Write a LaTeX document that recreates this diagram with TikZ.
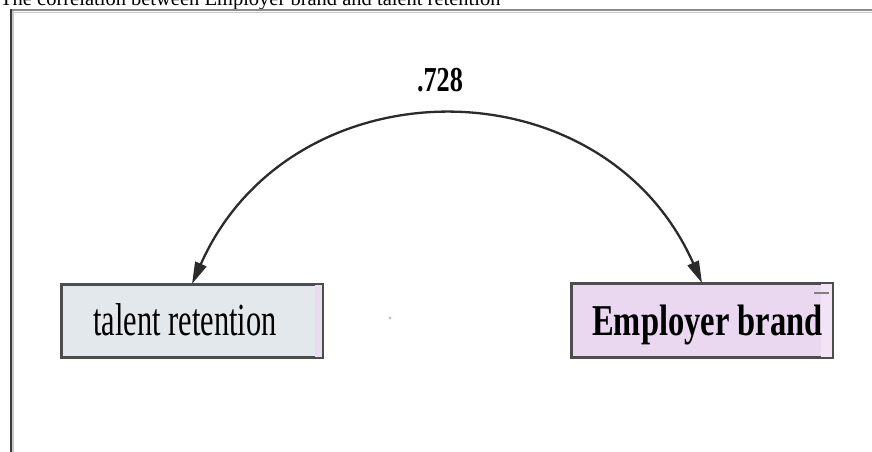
\documentclass[tikz,border=0pt]{standalone}
\usepackage{fontspec}
\setmainfont{Liberation Serif}
\usetikzlibrary{arrows.meta}

\definecolor{framedark}{HTML}{3A3A3A}
\definecolor{framegray}{HTML}{8C8C8C}
\definecolor{framelight}{HTML}{C8C8C8}
\definecolor{boxedge}{HTML}{4D4D4D}
\definecolor{retfill}{HTML}{E2E8EC}
\definecolor{retpink}{HTML}{EADCEE}
\definecolor{brandfill}{HTML}{E9D8F0}
\definecolor{brandlight}{HTML}{F3E3F6}
\definecolor{curvecol}{HTML}{2B2B2B}

\tikzset{
  varbox/.style={draw=boxedge, line width=2pt, minimum width=260pt,
    minimum height=72pt, inner sep=0pt},
  varlabel/.style={anchor=base, inner sep=0pt, text=black},
  covarc/.style={draw=curvecol, line width=2.3pt,
    {Triangle[length=22pt,width=12pt]}-{Triangle[length=22pt,width=12pt]}},
}

\newcommand{\squeezed}[3]{\scalebox{#1}[1]{\fontsize{#2}{#2}\selectfont #3}}

\begin{document}
\begin{tikzpicture}[x=1pt, y=-1pt]
  \useasboundingbox (0,0) rectangle (872,452);
  \clip (0,0) rectangle (872,452);
  \fill[white] (0,0) rectangle (872,452);

  % caption line of the surrounding page
  \node[anchor=base west, inner sep=0pt] (caption) at (0,5.5)
    {\fontsize{20.5}{20.5}\selectfont The correlation between Employer brand and talent retention};

  % page frame
  \draw[framelight, line width=1.5pt] (12,12.5) -- (872,12.5);
  \draw[framegray, line width=2pt] (10,10.5) -- (872,10.5);
  \draw[framelight, line width=1.5pt] (12.8,11) -- (12.8,452);
  \draw[framedark, line width=2pt] (10.8,9.5) -- (10.8,452);

  % observed variables
  \node[varbox, fill=retfill] (ret) at (192,321) {};
  \fill[retpink] ([xshift=-8pt,yshift=-1pt]ret.north east) rectangle ([xshift=-1pt,yshift=1pt]ret.south east);
  \draw[boxedge, line width=2pt] (ret.north west) rectangle (ret.south east);

  \node[varbox, fill=brandfill, minimum height=73pt] (brand) at (702,320.5) {};
  \fill[brandlight] ([xshift=-12pt,yshift=-1pt]brand.north east) rectangle ([xshift=-1pt,yshift=1pt]brand.south east);
  \draw[boxedge, line width=2pt] (brand.north west) rectangle (brand.south east);
  \draw[gray, line width=1.2pt] ([xshift=-19pt,yshift=-10pt]brand.north east) -- ([xshift=-4pt,yshift=-10pt]brand.north east);

  \node[varlabel] (retlabel) at (185,335) {\squeezed{0.66}{46}{talent retention}};
  \node[varlabel] (brandlabel) at (707.5,335) {\squeezed{0.74}{44}{\bfseries Employer brand}};

  % stray pixel between the boxes
  \fill[blue!45, opacity=0.6] (390,318) circle (1.6pt);

  % correlation between the two variables
  \draw[covarc] (ret.north) .. controls +(98.8,-222.7) and +(-98.8,-222.7) .. (brand.north);
  \node[varlabel] (corr) at (440,92) {\squeezed{0.75}{35}{\bfseries .728}};
\end{tikzpicture}
\end{document}
